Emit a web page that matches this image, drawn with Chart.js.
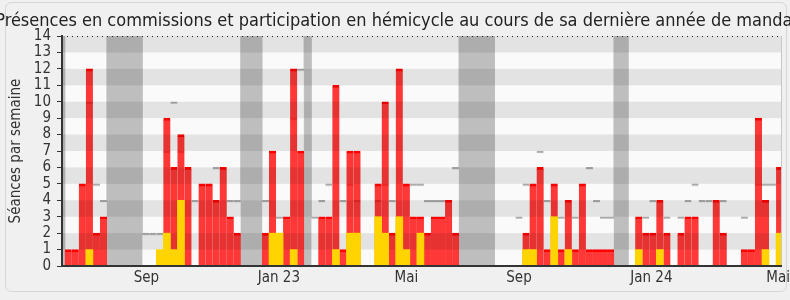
<!DOCTYPE html>
<html><head><meta charset="utf-8">
<script src="https://cdn.jsdelivr.net/npm/chart.js@4.4.1/dist/chart.umd.min.js"></script>
<style>html,body{margin:0;padding:0;background:#f0f0f0;overflow:hidden}</style>
</head><body>
<canvas id="c" width="790" height="300"></canvas>
<script>
// Weekly data, weeks -1 .. 101 (103 weeks)
const weeks = Array.from({length: 103}, (_, i) => i - 1);

// Présences en commission (rouge)
const commissions = [
  0, 1, 1, 5, 12, 2, 3, 0, 0, 0, 0, 0,
  0, 0, 0, 9, 6, 8, 6, 0, 5, 5,
  4, 6, 3, 2, 0, 0, 0, 2, 7, 0,
  3, 12, 7, 0, 0, 3, 3, 11, 1, 7,
  7, 0, 0, 5, 10, 2, 12, 5, 3, 3,
  2, 3, 3, 4, 2, 0, 0, 0, 0, 0,
  0, 0, 0, 0, 2, 5, 6, 1, 5, 1,
  4, 1, 5, 1, 1, 1, 1, 0, 0, 0,
  3, 2, 2, 4, 2, 0, 2, 3, 3, 0,
  0, 4, 2, 0, 0, 1, 1, 9, 4, 0,
  6
];
// Interventions en hémicycle (jaune)
const interventions = [
  0, 0, 0, 0, 1, 0, 0, 0, 0, 0, 0, 0,
  0, 0, 1, 2, 1, 4, 0, 0, 0, 0,
  0, 0, 0, 0, 0, 0, 0, 0, 2, 2,
  0, 1, 0, 0, 0, 0, 0, 1, 0, 2,
  2, 0, 0, 3, 2, 0, 3, 1, 0, 2,
  0, 0, 0, 0, 0, 0, 0, 0, 0, 0,
  0, 0, 0, 0, 1, 1, 0, 0, 3, 0,
  1, 0, 0, 0, 0, 0, 0, 0, 0, 0,
  1, 0, 0, 1, 0, 0, 0, 0, 0, 0,
  0, 0, 0, 0, 0, 0, 0, 0, 1, 0,
  2
];
// Présences en hémicycle (gris clair)
const hemicycle = [
  0, 0, 0, 0, 10, 5, 4, 0, 0, 0, 0, 0,
  2, 2, 2, 7, 10, 7, 0, 4, 0, 0,
  6, 0, 4, 4, 0, 0, 0, 4, 0, 3,
  0, 9, 12, 0, 3, 4, 5, 0, 4, 5,
  4, 0, 0, 4, 5, 4, 0, 0, 5, 5,
  4, 4, 4, 0, 6, 0, 0, 0, 0, 0,
  0, 0, 0, 3, 5, 0, 7, 4, 0, 3,
  0, 3, 0, 6, 4, 3, 3, 0, 0, 0,
  0, 3, 4, 0, 3, 0, 3, 4, 5, 4,
  4, 0, 4, 0, 0, 3, 0, 5, 5, 5,
  0
];
// Semaines de vacances parlementaires
const vacationWeeks = [-1, 6, 7, 8, 9, 10, 25, 26, 27, 34, 56, 57, 58, 59, 60, 78, 79];
const vacationHeight = 14;

// Axis
const monthLabels = ['Sep', 'Jan 23', 'Mai', 'Sep', 'Jan 24', 'Mai'];
const monthPos = [11.6, 30.4, 48.5, 64.5, 83.3, 101.3];
const yTicks = [0, 1, 2, 3, 4, 5, 6, 7, 8, 9, 10, 11, 12, 13, 14];
const titleText = 'Présences en commissions et participation en hémicycle au cours de sa dernière année de mandat';

const FONT = "'DejaVu Sans Condensed', 'DejaVu Sans', sans-serif";
const TXT = '#333333';

const pts = arr => weeks.map((w, i) => ({x: w + 0.5, y: arr[i] ? arr[i] : null}));
const vacPts = vacationWeeks.map(w => ({x: w + 0.5, y: vacationHeight}));

function shadeRows(chart) {
  const {ctx, chartArea: a, scales: {y}} = chart;
  ctx.save();
  ctx.globalCompositeOperation = 'multiply';
  ctx.fillStyle = 'rgb(232,232,232)';
  for (let k = 1; k < yTicks.length - 1; k += 2) {
    const t = y.getPixelForValue(yTicks[k + 1]);
    const b = y.getPixelForValue(yTicks[k]);
    ctx.fillRect(a.left, t, a.right - a.left, b - t);
  }
  ctx.restore();
}

const decor = {
  id: 'decor',
  beforeDraw(chart) {
    const {ctx, chartArea: a} = chart;
    ctx.save();
    ctx.fillStyle = '#f0f0f0';
    ctx.fillRect(0, 0, chart.width, chart.height);
    ctx.beginPath();
    ctx.roundRect(5.5, 2.5, 781, 289, 6);
    ctx.strokeStyle = '#d6d6d6';
    ctx.lineWidth = 1;
    ctx.stroke();
    ctx.fillStyle = '#fafafa';
    ctx.fillRect(a.left, a.top, a.right - a.left, a.bottom - a.top);
    ctx.restore();
  },
  beforeDatasetDraw(chart, args) {
    // shade the alternate rows after grey/red layers, before the yellow layer
    if (args.index === 0) shadeRows(chart);
  },
  afterDatasetsDraw(chart) {
    const {ctx, chartArea: a, scales: {y}} = chart;
    ctx.save();
    const top = Math.round(y.getPixelForValue(14)) + 0.5;
    ctx.beginPath();
    ctx.setLineDash([1, 4]);
    ctx.strokeStyle = '#222';
    ctx.lineWidth = 1;
    ctx.moveTo(a.left, top);
    ctx.lineTo(a.right, top);
    ctx.stroke();
    ctx.setLineDash([]);
    ctx.beginPath();
    ctx.strokeStyle = '#c8c8c8';
    ctx.moveTo(a.right + 0.5, a.top);
    ctx.lineTo(a.right + 0.5, a.bottom);
    ctx.stroke();
    ctx.restore();
  },
  afterDraw(chart) {
    // title drawn at natural width (wider than the canvas, as in the original)
    const {ctx} = chart;
    ctx.save();
    ctx.font = "18px " + FONT;
    ctx.fillStyle = '#222';
    ctx.textAlign = 'center';
    ctx.textBaseline = 'alphabetic';
    ctx.fillText(titleText, 397, 26);
    ctx.restore();
  }
};

const common = {grouped: false, barPercentage: 1, categoryPercentage: 1};

new Chart(document.getElementById('c'), {
  type: 'bar',
  data: {
    datasets: [
      Object.assign({label: 'Interventions', data: pts(interventions), backgroundColor: 'rgb(255,212,0)', borderWidth: 0}, common),
      Object.assign({label: 'Commissions', data: pts(commissions), backgroundColor: 'rgba(255,0,0,0.78)',
        borderColor: 'rgb(255,0,0)', borderWidth: {top: 2, left: 0, right: 0, bottom: 0}}, common),
      Object.assign({label: 'Hémicycle', data: pts(hemicycle), backgroundColor: 'rgba(250,250,250,0.7)',
        borderColor: '#aaaaaa', borderWidth: {top: 2, left: 0, right: 0, bottom: 0}}, common),
      Object.assign({label: 'Vacances', data: vacPts, backgroundColor: 'rgb(190,190,190)', borderWidth: 0,
        inflateAmount: 0.6}, common)
    ]
  },
  options: {
    responsive: false,
    animation: false,
    devicePixelRatio: 1,
    layout: {padding: {left: 3, right: 9, top: 36, bottom: 0}},
    plugins: {
      legend: {display: false},
      tooltip: {enabled: false},
      title: {display: false}
    },
    scales: {
      x: {
        type: 'linear',
        offset: false,
        min: -0.39,
        max: 101.7,
        afterBuildTicks: s => { s.ticks = monthPos.map(v => ({value: v})); },
        afterFit: s => { s.height = 34; s.paddingLeft = 0; s.paddingRight = 0; },
        grid: {display: false, drawTicks: false, offset: false},
        border: {display: true, color: '#333', width: 2, z: 1},
        ticks: {
          autoSkip: false, maxRotation: 0, padding: 3, color: TXT,
          font: {family: FONT, size: 15},
          callback: (v, i) => monthLabels[i]
        }
      },
      y: {
        min: 0,
        max: 14,
        afterBuildTicks: s => { s.ticks = yTicks.map(v => ({value: v})); },
        afterFit: s => { s.width = 59; },
        grid: {drawOnChartArea: false, drawTicks: true, tickLength: 5, color: '#333'},
        border: {display: true, color: '#333', width: 2, z: 1},
        ticks: {autoSkip: false, padding: 6, color: TXT, font: {family: FONT, size: 15}},
        title: {display: true, text: 'Séances par semaine', color: TXT,
          font: {family: FONT, size: 15}, padding: {top: 4, bottom: 2}}
      }
    }
  },
  plugins: [decor]
});
</script>
</body></html>
